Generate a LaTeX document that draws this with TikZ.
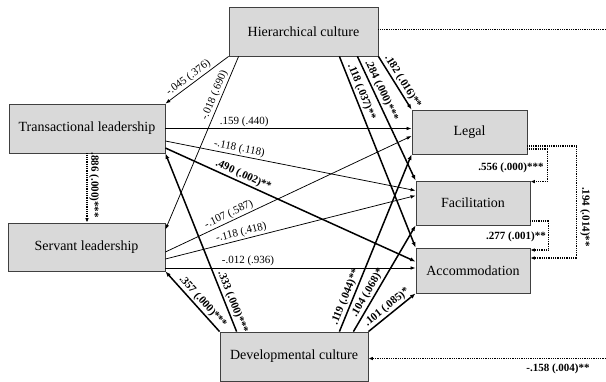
\documentclass[tikz,border=0pt]{standalone}
\usepackage{fontspec}
\setmainfont{Liberation Serif}
\usetikzlibrary{arrows.meta,calc}
\definecolor{boxgray}{HTML}{D9D9D9}
\begin{document}
\begin{tikzpicture}[x=1pt,y=-1pt,
  box/.style={draw=black!75, fill=boxgray, line width=0.8pt, inner sep=0pt, font=\fontsize{14}{16}\selectfont},
  thinarr/.style={line width=0.75pt, -{Latex[length=5pt,width=3.6pt]}},
  boldarr/.style={line width=1.5pt, -{Latex[length=5.5pt,width=4.2pt]}},
  lbl/.style={font=\fontsize{11}{13}\selectfont, inner sep=1.5pt, sloped, above},
  lblb/.style={lbl, font=\fontsize{11}{13}\selectfont\bfseries},
  dotline/.style={line width=1.1pt, dash pattern=on 0.9pt off 0.9pt},
  dotarr/.style={dotline, -{Latex[length=4.5pt,width=3.6pt]}},
  freelbl/.style={font=\fontsize{11}{13}\selectfont\bfseries, inner sep=1pt}
]
\useasboundingbox (0,0) rectangle (606,381);
\coordinate (R) at (606,0);

\node[box, minimum width=149pt, minimum height=49pt] (hier) at (303.5,31.5) {Hierarchical culture};
\node[box, minimum width=156pt, minimum height=49pt] (trans) at (87,128.5) {Transactional leadership};
\node[box, minimum width=157pt, minimum height=48pt] (servant) at (86.5,247) {Servant leadership};
\node[box, minimum width=148pt, minimum height=49pt] (dev) at (294,356.5) {Developmental culture};
\node[box, minimum width=115pt, minimum height=44pt] (legal) at (469.5,132) {Legal};
\node[box, minimum width=114pt, minimum height=44pt] (facil) at (473,203) {Facilitation};
\node[box, minimum width=114pt, minimum height=45pt] (accom) at (473,270.5) {Accommodation};

% Hierarchical culture
\draw[thinarr] (hier.south west) -- node[lbl,pos=.57]{-.045 (.376)} (trans.north east);
\draw[thinarr] ([xshift=10pt]hier.south west) -- node[lbl,pos=.24]{-.018 (.690)} ([yshift=-7pt]servant.north east);
\draw[boldarr] (hier.south east) -- node[lblb,pos=.55]{.182 (.016)**} (legal.north west);
\draw[boldarr] ([xshift=-21pt]hier.south east) -- node[lblb,pos=.30]{.284 (.000)***} (facil.north west);
\draw[boldarr] ([xshift=-39pt]hier.south east) -- node[lblb,pos=.20]{.118 (.037)**} (accom.north west);

% Transactional leadership
\draw[thinarr] (trans.east) -- node[lbl,pos=.32]{.159 (.440)} (trans.east -| legal.west);
\draw[thinarr] ([yshift=-12.5pt]trans.east) -- node[lbl,pos=.29]{-.118 (.118)} ([yshift=-10pt]facil.north west);
\draw[boldarr] ([yshift=-19.5pt]trans.east) -- node[lblb,pos=.30]{.490 (.002)**} ([yshift=-14pt]accom.north west);

% Servant leadership
\coordinate (sa) at ([yshift=-21pt]servant.east);
\draw[thinarr] ([yshift=-5pt]servant.east) -- node[lbl,pos=.27]{-.107 (.587)} ([yshift=-4pt]legal.west);
\draw[thinarr] ([yshift=-12pt]servant.east) -- node[lbl,pos=.31]{-.118 (.418)} ([yshift=-15pt]facil.north west);
\draw[thinarr] (sa) -- node[lbl,pos=.33]{-.012 (.936)} (sa -| accom.west);

% Developmental culture
\draw[boldarr] (dev.north west) -- node[lblb,pos=.41]{.357 (.000)***} (servant.south east);
\draw[boldarr] ([xshift=17pt]dev.north west) -- node[lblb,pos=.15]{.333 (.000)***} (trans.south east);
\draw[boldarr] ([xshift=-29pt]dev.north east) -- node[lblb,pos=.18]{.119 (.044)**} (legal.south west);
\draw[boldarr] ([xshift=-15pt]dev.north east) -- node[lblb,pos=.33]{.104 (.068)*} (facil.south west);
\draw[boldarr] (dev.north east) -- node[lblb,pos=.49]{.101 (.085)*} (accom.south west);

% Dotted correlations
\draw[dotarr] (trans.south) -- node[lblb,pos=.46]{.886 (.000)***} (trans.south |- servant.north);
\draw[dotline] ([yshift=2pt]hier.east) -- ([yshift=2pt]hier.east -| R);
\draw[dotarr] ([yshift=-2pt]dev.east -| R) -- ([yshift=-2pt]dev.east);
\node[freelbl] (l158) at (558,369) {-.158 (.004)**};

\draw[dotarr] ([yshift=-17pt]legal.east) -- ++(20,0) |- ([yshift=-1pt]facil.north east);
\node[freelbl] (l556) at (511,168) {.556 (.000)***};
\draw[dotarr] ([yshift=-14pt]legal.east) -- ++(49,0) |- ([yshift=12.5pt]accom.east);
\node[freelbl, rotate=-90] (l194) at (585,217) {.194 (.014)**};
\draw[dotarr] ([yshift=-18pt]facil.east) -- ++(18,0) |- ([yshift=20.5pt]accom.east);
\node[freelbl] (l277) at (516,237) {.277 (.001)**};
\end{tikzpicture}
\end{document}
